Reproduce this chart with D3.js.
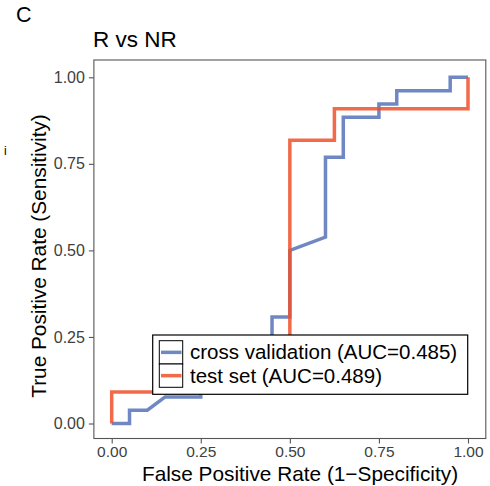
<!DOCTYPE html>
<html><head><meta charset="utf-8">
<script src="https://cdn.jsdelivr.net/npm/d3@7"></script>
<style>body{margin:0;background:#fff}svg{display:block;font-family:"Liberation Sans",Arial,Helvetica,sans-serif}</style>
</head><body><svg id="c" width="490" height="486"></svg>
<script>
const xTicks = [0, 0.25, 0.5, 0.75, 1];
const yTicks = [0, 0.25, 0.5, 0.75, 1];
const tickLabels = ["0.00", "0.25", "0.50", "0.75", "1.00"];
const seriesNames = ["cross validation (AUC=0.485)", "test set (AUC=0.489)"];
const cvFPR = [0, 0.05, 0.05, 0.10, 0.15, 0.25, 0.25, 0.35, 0.35, 0.45, 0.45, 0.50, 0.50, 0.60, 0.60, 0.65, 0.65, 0.75, 0.75, 0.80, 0.80, 0.95, 0.95, 1.00];
const cvTPR = [0, 0, 0.0385, 0.0385, 0.0769, 0.0769, 0.1538, 0.1538, 0.2308, 0.2308, 0.3077, 0.3077, 0.50, 0.5385, 0.7692, 0.7692, 0.8846, 0.8846, 0.9231, 0.9231, 0.9615, 0.9615, 1.00, 1.00];
const tsFPR = [0, 0, 0.5, 0.5, 0.625, 0.625, 1.0, 1.0];
const tsTPR = [0, 0.0909, 0.0909, 0.8182, 0.8182, 0.9091, 0.9091, 1.0];
const colors = ["#3f5fae", "#f0502a"];

const svg = d3.select("#c");
const x = d3.scaleLinear().domain([0, 1]).range([111.7, 468]);
const y = d3.scaleLinear().domain([0, 1]).range([423.5, 77.3]);
const px0 = x(-0.05), px1 = x(1.05), py0 = y(1.05), py1 = 438.5;

svg.append("text").attr("x", 16).attr("y", 22).attr("font-size", 21.5).text("C");
svg.append("text").attr("x", 93).attr("y", 47).attr("font-size", 22.5).text("R vs NR");
svg.append("text").attr("x", 4).attr("y", 155).attr("font-size", 12).text("i");

svg.append("rect").attr("x", px0).attr("y", py0).attr("width", px1 - px0).attr("height", py1 - py0)
  .attr("fill", "#fff").attr("stroke", "#555").attr("stroke-width", 1.1);

const xAxis = d3.axisBottom(x).tickValues(xTicks).tickSize(5).tickPadding(2.5).tickFormat((d, i) => tickLabels[i]);
const gx = svg.append("g").attr("transform", `translate(0,${py1})`).call(xAxis);
gx.select(".domain").remove();
gx.selectAll("line").attr("stroke", "#555").attr("stroke-width", 1.1);
gx.selectAll("text").attr("font-size", 15.5).attr("fill", "#404040").attr("font-family", "Liberation Sans, Arial, sans-serif");

const yAxis = d3.axisLeft(y).tickValues(yTicks).tickSize(5).tickPadding(4).tickFormat((d, i) => tickLabels[i]);
const gy = svg.append("g").attr("transform", `translate(${px0},0)`).call(yAxis);
gy.select(".domain").remove();
gy.selectAll("line").attr("stroke", "#555").attr("stroke-width", 1.1);
gy.selectAll("text").attr("font-size", 16).attr("fill", "#404040").attr("font-family", "Liberation Sans, Arial, sans-serif");

svg.append("text").attr("x", 300).attr("y", 481).attr("text-anchor", "middle").attr("font-size", 20.8).text("False Positive Rate (1\u2212Specificity)");
svg.append("text").attr("transform", `translate(46,256) rotate(-90)`).attr("text-anchor", "middle").attr("font-size", 20.8).text("True Positive Rate (Sensitivity)");

const line = d3.line().x(d => x(d[0])).y(d => y(d[1]));
const cv = cvFPR.map((v, i) => [v, cvTPR[i]]);
const ts = tsFPR.map((v, i) => [v, tsTPR[i]]);
svg.append("path").attr("d", line(cv)).attr("fill", "none").attr("stroke", colors[0]).attr("stroke-opacity", 0.75).attr("stroke-width", 3.5);
svg.append("path").attr("d", line(ts)).attr("fill", "none").attr("stroke", colors[1]).attr("stroke-opacity", 0.85).attr("stroke-width", 3.5);

// legend
const lg = svg.append("g");
lg.append("rect").attr("x", 152.7).attr("y", 335).attr("width", 315).attr("height", 59.3).attr("fill", "#fff").attr("stroke", "#000").attr("stroke-width", 1.2);
seriesNames.forEach((name, i) => {
  const ky = 340.7 + i * 23.3;
  lg.append("rect").attr("x", 159.3).attr("y", ky).attr("width", 23.4).attr("height", 23.3).attr("fill", "#fff").attr("stroke", "#000").attr("stroke-width", 1);
  lg.append("line").attr("x1", 161).attr("x2", 181.5).attr("y1", ky + 11.65).attr("y2", ky + 11.65).attr("stroke", colors[i]).attr("stroke-opacity", i ? 0.85 : 0.75).attr("stroke-width", 3.5);
  lg.append("text").attr("x", 190).attr("y", ky + 18.5).attr("font-size", 20.5).text(name);
});
</script></body></html>
